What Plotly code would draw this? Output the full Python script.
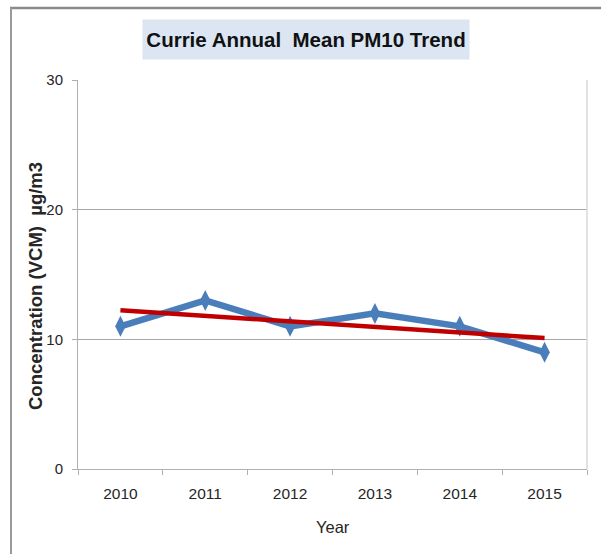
import plotly.graph_objects as go

# ---- data ----
years = ["2010", "2011", "2012", "2013", "2014", "2015"]
pm10_values = [11, 13, 11, 12, 11, 9]
trend_years = ["2010", "2015"]
trend_values = [12.24, 10.1]
y_ticks = [0, 10, 20, 30]

W, H = 604, 554
L, R, T, B = 78, 587, 80, 469  # plot area in pixels


def px(x):
    return (x - L) / (R - L)


def py(y):
    return (B - y) / (B - T)


NARROW = "Liberation Sans Narrow, Arial Narrow, Liberation Sans, Arial, sans-serif"
SANS = "Liberation Sans, Arial, sans-serif"

fig = go.Figure()
fig.add_trace(go.Scatter(
    x=years, y=pm10_values, mode="lines+markers",
    line=dict(color="#4a7ebb", width=6.5),
    marker=dict(symbol="diamond-tall", size=15, color="#4a7ebb"),
    showlegend=False, hoverinfo="x+y",
))
fig.add_trace(go.Scatter(
    x=trend_years, y=trend_values, mode="lines",
    line=dict(color="#c00000", width=4.5),
    showlegend=False, hoverinfo="skip",
))

fig.update_layout(
    width=W, height=H,
    margin=dict(l=L, r=W - R, t=T, b=H - B),
    paper_bgcolor="white", plot_bgcolor="white",
    font=dict(family=NARROW, size=16, color="#262626"),
    xaxis=dict(
        type="category", tickson="boundaries", ticks="outside", ticklen=5,
        tickcolor="#b0b0b0", showline=True, linecolor="#b0b0b0", linewidth=1,
        showgrid=False, zeroline=False, range=[-0.5, 5.5],
        tickfont=dict(family=NARROW, size=15.5, color="#262626"),
        ticklabelstandoff=10,
    ),
    yaxis=dict(
        range=[0, 30], tickvals=y_ticks, ticks="outside", ticklen=5,
        tickcolor="#b0b0b0", showline=True, linecolor="#b0b0b0", linewidth=1,
        showgrid=True, gridcolor="#a6a6a6", gridwidth=1, zeroline=False,
        tickfont=dict(family=NARROW, size=15, color="#262626"),
        ticklabelstandoff=6,
    ),
    annotations=[
        dict(text="<b>Currie Annual  Mean PM10 Trend</b>", xref="paper", yref="paper",
             x=px(306), y=py(39.5), xanchor="center", yanchor="middle", showarrow=False,
             font=dict(family=NARROW, size=20.5, color="#111111"),
             bgcolor="#dce6f2", borderpad=3, width=320, height=33),
        dict(text="<b>Concentration (VCM)  µg/m3</b>", xref="paper", yref="paper",
             x=px(35), y=py(286), xanchor="center", yanchor="middle", showarrow=False,
             textangle=-90, font=dict(family=SANS, size=18.5, color="#262626")),
        dict(text="Year", xref="paper", yref="paper",
             x=px(333), y=py(527), xanchor="center", yanchor="middle", showarrow=False,
             font=dict(family=NARROW, size=16.5, color="#262626")),
    ],
    shapes=[
        # outer frame (top and left)
        dict(type="line", xref="paper", yref="paper", x0=px(10), x1=px(601),
             y0=py(8), y1=py(8), line=dict(color="#8a8a8a", width=2.5)),
        dict(type="line", xref="paper", yref="paper", x0=px(11), x1=px(11),
             y0=py(8), y1=py(554), line=dict(color="#9a9a9a", width=2)),
        # light right border of plot area
        dict(type="line", xref="paper", yref="paper", x0=1, x1=1,
             y0=0, y1=1, line=dict(color="#d9d9d9", width=1.5)),
    ],
)

fig.write_html("out.html")
